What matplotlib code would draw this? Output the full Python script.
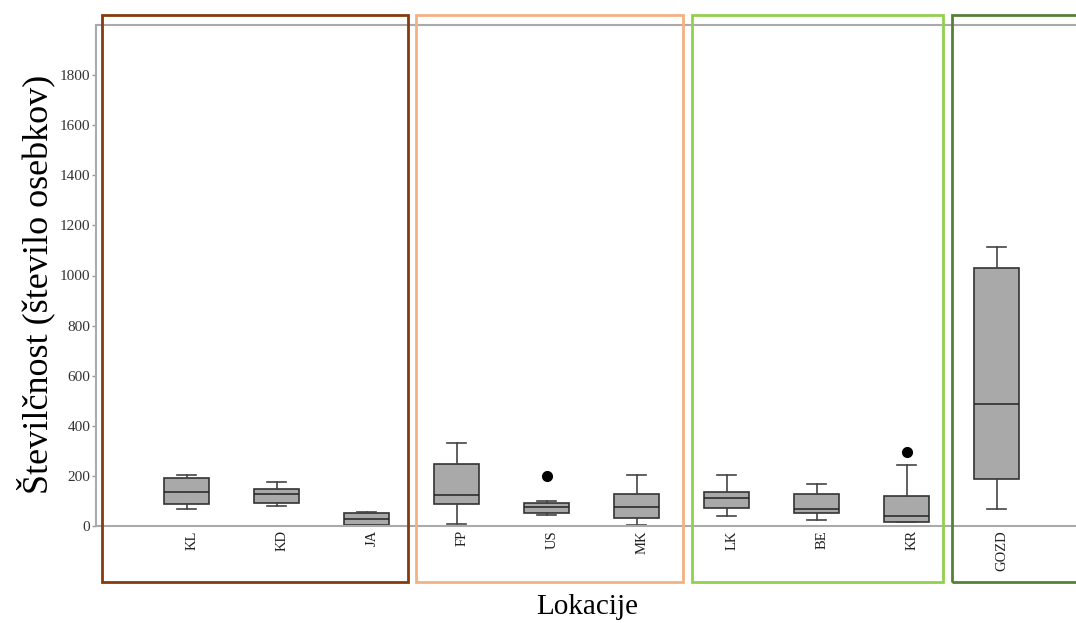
import matplotlib
matplotlib.use("Agg")
import matplotlib.pyplot as plt
from matplotlib.patches import Rectangle
import matplotlib.transforms as mtransforms

plt.rcParams['font.family'] = ['Liberation Serif', 'DejaVu Serif']

locations = ["KL", "KD", "JA", "FP", "US", "MK", "LK", "BE", "KR", "GOZD"]
whis_lo = [68, 80, 2, 9, 45, 4, 40, 25, 15, 69]
q1 = [87, 93, 4, 86, 51, 33, 71, 52, 17, 188]
medians = [137, 126, 29, 122, 76, 76, 113, 69, 39, 486]
q3 = [190, 149, 52, 246, 90, 126, 134, 126, 118, 1031]
whis_hi = [205, 177, 57, 331, 101, 202, 204, 168, 242, 1113]
outliers = [[], [], [], [], [198], [], [], [], [295], []]
y_ticks = [0, 200, 400, 600, 800, 1000, 1200, 1400, 1600, 1800]

W, H = 1076, 623
fig = plt.figure(figsize=(W / 100, H / 100), dpi=100)
ax = fig.add_axes([96 / W, (H - 526) / H, (W - 96) / W, (526 - 25) / H])

stats = []
for i, name in enumerate(locations):
    stats.append(dict(label=name, med=medians[i], q1=q1[i], q3=q3[i],
                      whislo=whis_lo[i], whishi=whis_hi[i], fliers=outliers[i]))

ax.bxp(stats, positions=range(len(locations)), widths=0.5, capwidths=0.21,
       patch_artist=True, showfliers=True,
       boxprops=dict(facecolor="#a9a9a9", edgecolor="#333333", linewidth=1.2),
       medianprops=dict(color="#222222", linewidth=1.1),
       whiskerprops=dict(color="#444444", linewidth=1.2),
       capprops=dict(color="#444444", linewidth=1.2),
       flierprops=dict(marker="o", markerfacecolor="black", markeredgecolor="black",
                       markersize=7))

ax.set_xlim(-1.01, 9.88)
ax.set_ylim(0, 2000)
ax.set_yticks(y_ticks)
ax.set_yticklabels([str(v) for v in y_ticks], fontsize=11, color="#333333")
ax.set_xticks(range(len(locations)))
ax.set_xticklabels(locations, rotation=90, fontsize=10.5, color="#222222", va="top")
ax.tick_params(axis="x", length=0, pad=3)
ax.tick_params(axis="y", length=3, color="#999999", width=1, pad=1)
offset = mtransforms.ScaledTranslation(5 / 100, 0, fig.dpi_scale_trans)
for lbl in ax.get_xticklabels():
    lbl.set_transform(lbl.get_transform() + offset)

for side in ["left", "top", "bottom"]:
    ax.spines[side].set_color("#aaaaaa")
    ax.spines[side].set_linewidth(1.5)
ax.spines["right"].set_visible(False)

fig.text(36 / W, 1 - 284 / H, "Številčnost (število osebkov)", fontsize=26,
         rotation=90, ha="center", va="center")
fig.text(587 / W, 1 - 607 / H, "Lokacije", fontsize=21, ha="center", va="center")

# group frames
frames = [(102, 408, "#843c0c"), (416, 683, "#f4b183"), (692, 943, "#92d050"), (952, 1090, "#548235")]
for x0, x1, col in frames:
    fig.patches.append(Rectangle((x0 / W, 1 - 582 / H), (x1 - x0) / W, (582 - 15) / H,
                                 transform=fig.transFigure, fill=False,
                                 edgecolor=col, linewidth=2.0, zorder=5))

fig.savefig("out.png", dpi=100)
